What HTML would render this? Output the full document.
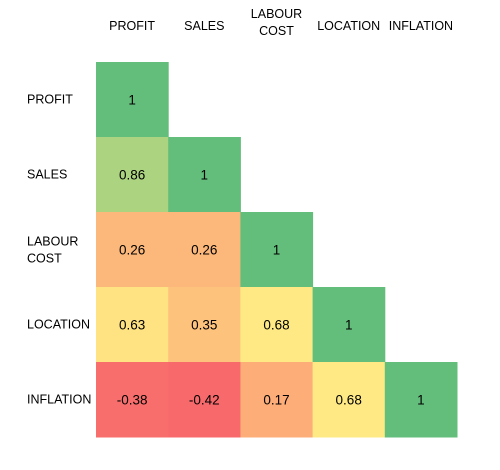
<!DOCTYPE html>
<html><head><meta charset="utf-8"><style>
body{margin:0;background:#fff;width:500px;height:465px;overflow:hidden;font-family:"Liberation Sans",sans-serif}
svg text{font-family:"Liberation Sans",sans-serif;font-size:12.5px;fill:#000}
svg text.val{font-size:13.5px}
</style></head><body>
<svg id="chart" width="500" height="465"></svg>
<script>
const categories=["PROFIT","SALES","LABOUR COST","LOCATION","INFLATION"];
const row0=[1];
const row1=[0.86,1];
const row2=[0.26,0.26,1];
const row3=[0.63,0.35,0.68,1];
const row4=[-0.38,-0.42,0.17,0.68,1];
const matrix=[row0,row1,row2,row3,row4];
const ns="http://www.w3.org/2000/svg";
const svg=document.getElementById('chart');
const x0=96,cw=72.2,y0=62,rh=75;
const xPos=i=>x0+i*cw, yPos=i=>y0+i*rh;
function color(v){
  const mn=-0.42,mid=0.7,mx=1;
  let a,b,t;
  if(v<=mid){t=Math.max(0,(v-mn)/(mid-mn));a=[248,105,107];b=[255,235,132];}
  else{t=Math.min(1,(v-mid)/(mx-mid));a=[255,235,132];b=[99,190,123];}
  const c=a.map((x,k)=>Math.round(x+(b[k]-x)*t));
  return `rgb(${c[0]},${c[1]},${c[2]})`;
}
function txt(x,y,s,anchor,name,cls){
  const t=document.createElementNS(ns,'text');
  t.setAttribute('x',x);t.setAttribute('y',y);t.setAttribute('text-anchor',anchor);
  if(cls)t.setAttribute('class',cls);
  t.textContent=s;
  
  
  svg.appendChild(t);
}
function lines(label){return label==="LABOUR COST"?["LABOUR","COST"]:[label];}
categories.forEach((c,i)=>{
  const L=lines(c);
  L.forEach((l,k)=>{
    const cy=L.length>1?18+k*17:30;
    txt(xPos(i)+cw/2,cy,l,'middle','column-header-'+c.toLowerCase().replace(' ','-'));
  });
  L.forEach((l,k)=>{
    const cy=L.length>1?yPos(i)+rh/2-4+k*17:yPos(i)+rh/2+4;
    txt(27,cy,l,'start','row-label-'+c.toLowerCase().replace(' ','-'));
  });
});
matrix.forEach((row,r)=>{
  row.forEach((v,c)=>{
    const rect=document.createElementNS(ns,'rect');
    rect.setAttribute('x',xPos(c));rect.setAttribute('y',yPos(r));
    rect.setAttribute('width',cw+0.5);rect.setAttribute('height',rh+0.5);
    rect.setAttribute('fill',color(v));
    
    
    svg.appendChild(rect);
    txt(xPos(c)+cw/2,yPos(r)+rh/2+5,String(v),'middle','cell-value','val');
  });
});
</script>
</body></html>
